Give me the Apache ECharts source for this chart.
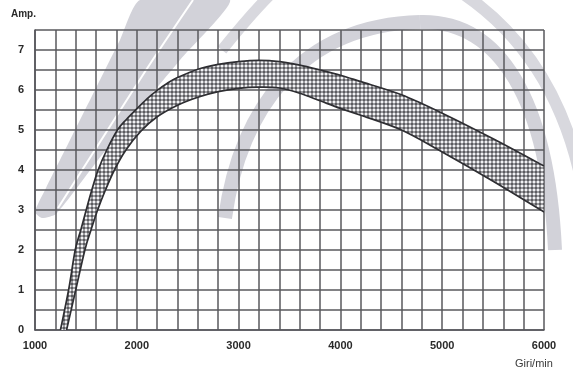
<!DOCTYPE html>
<html>
<head>
<meta charset="utf-8">
<script src="https://cdn.jsdelivr.net/npm/echarts@6/dist/echarts.min.js"></script>
<style>
html,body{margin:0;padding:0;background:#fff;}
#chart{width:573px;height:369px;}
</style>
</head>
<body>
<div id="chart"></div>
<script>
// Upper (left/top) boundary of the band: [rpm, amp]
var upperCurve = [
  [1250,0],[1330,1],[1395,2],[1450,2.5],[1503,3],[1558,3.5],[1620,4],[1705,4.5],
  [1810,5],[1900,5.27],[2000,5.53],[2100,5.78],[2200,5.99],[2300,6.17],[2400,6.31],
  [2600,6.52],[2800,6.64],[3000,6.71],[3200,6.74],[3400,6.71],[3600,6.62],[3800,6.5],
  [4000,6.37],[4200,6.21],[4600,5.88],[5000,5.42],[5500,4.78],[6000,4.1]
];
// Lower (right/bottom) boundary of the band: [rpm, amp]
var lowerCurve = [
  [1310,0],[1400,1],[1490,2],[1550,2.5],[1615,3],[1692,3.5],[1780,4],[1893,4.5],
  [2040,4.97],[2200,5.33],[2400,5.62],[2600,5.82],[2800,5.96],[3000,6.04],[3200,6.07],
  [3400,6.05],[3600,5.92],[3800,5.73],[4000,5.54],[4200,5.37],[4600,5.0],[5000,4.45],
  [5500,3.72],[6000,2.95]
];
var xTickLabels = [1000, 2000, 3000, 4000, 5000, 6000];
var yTickLabels = [0, 1, 2, 3, 4, 5, 6, 7];
var yAxisTitle = 'Amp.';
var xAxisTitle = 'Giri/min';

// cross-hatch pattern
var pc = document.createElement('canvas');
pc.width = 4; pc.height = 4;
var pctx = pc.getContext('2d');
pctx.fillStyle = '#5c5c60';
pctx.fillRect(0,0,4,4);
pctx.fillStyle = '#9a9a9e';
pctx.fillRect(0,1,4,2);
pctx.fillRect(1,0,2,4);
pctx.fillStyle = '#f2f2f4';
pctx.fillRect(1,1,2,2);

// Catmull-Rom -> cubic bezier path segments (drawing only)
function crPath(pts, moveFirst){
  var d = moveFirst ? 'M' + pts[0][0] + ' ' + pts[0][1] : 'L' + pts[0][0] + ' ' + pts[0][1];
  for (var i = 0; i < pts.length - 1; i++){
    var p0 = pts[i-1] || pts[i], p1 = pts[i], p2 = pts[i+1], p3 = pts[i+2] || pts[i+1];
    var c1x = p1[0] + (p2[0]-p0[0])/6, c1y = p1[1] + (p2[1]-p0[1])/6;
    var c2x = p2[0] - (p3[0]-p1[0])/6, c2y = p2[1] - (p3[1]-p1[1])/6;
    d += ' C' + c1x + ' ' + c1y + ' ' + c2x + ' ' + c2y + ' ' + p2[0] + ' ' + p2[1];
  }
  return d;
}

var chart = echarts.init(document.getElementById('chart'), null, {renderer:'canvas'});

var gridCol = '#58585d';
var wm = '#d2d2d9';
var option = {
  animation: false,
  backgroundColor: '#ffffff',
  grid: {left: 35, right: 29, top: 30, bottom: 39, show: false},
  graphic: [
    // faint scan watermark shapes
    {type:'polygon', z:-10, silent:true,
     shape:{points:[[140,0],[120,40],[95,90],[70,140],[46,188],[35,212],[42,218],[56,214],
                    [98,160],[140,108],[180,60],[230,0]], smooth:0.2},
     style:{fill:wm, stroke:null}},
    {type:'polyline', z:-9, silent:true,
     shape:{points:[[58,208],[100,142],[150,64],[193,0]], smooth:0.3},
     style:{stroke:'#ffffff',lineWidth:2,fill:null}},
    {type:'bezierCurve', z:-10, silent:true,
     shape:{x1:222,y1:50,x2:270,y2:-5,cpx1:238,cpy1:30,cpx2:255,cpy2:10},
     style:{stroke:'#d8d8de',lineWidth:11,fill:null}},
    {type:'bezierCurve', z:-10, silent:true,
     shape:{x1:225,y1:218,x2:420,y2:22,cpx1:240,cpy1:110,cpx2:300,cpy2:25},
     style:{stroke:wm,lineWidth:14,fill:null}},
    {type:'bezierCurve', z:-10, silent:true,
     shape:{x1:420,y1:22,x2:555,y2:250,cpx1:500,cpy1:20,cpx2:548,cpy2:100},
     style:{stroke:wm,lineWidth:14,fill:null}},
    {type:'bezierCurve', z:-10, silent:true,
     shape:{x1:465,y1:-5,x2:585,y2:200,cpx1:530,cpy1:40,cpx2:570,cpy2:110},
     style:{stroke:'#d8d8de',lineWidth:12,fill:null}},
    {type:'text', left:11, top:9,
     style:{text: yAxisTitle, fill:'#2a2a2a', font:'bold 10px "Liberation Sans", Arial, sans-serif'}},
    {type:'text', left:515, top:358,
     style:{text: xAxisTitle, fill:'#3a3a3a', font:'11px "Liberation Sans", Arial, sans-serif'}}
  ],
  xAxis: {
    type: 'value', min: 1000, max: 6000, interval: 200,
    axisLine: {show: true, onZero: false, lineStyle: {color: gridCol, width: 1.6}},
    axisTick: {show: false},
    axisLabel: {
      margin: 10, color: '#2a2a2a',
      fontFamily: '"Liberation Sans", Arial, sans-serif', fontSize: 11, fontWeight: 'bold',
      formatter: function(v){ return xTickLabels.indexOf(v) >= 0 ? String(v) : ''; }
    },
    splitLine: {show: true, lineStyle: {color: gridCol, width: 1.5}}
  },
  yAxis: {
    type: 'value', min: 0, max: 7.5, interval: 0.5,
    axisLine: {show: true, onZero: false, lineStyle: {color: gridCol, width: 1.6}},
    axisTick: {show: false},
    axisLabel: {
      margin: 11, color: '#2a2a2a', padding: [0,0,4,0],
      fontFamily: '"Liberation Sans", Arial, sans-serif', fontSize: 11, fontWeight: 'bold',
      formatter: function(v){ return yTickLabels.indexOf(v) >= 0 ? String(v) : ''; }
    },
    splitLine: {show: true, lineStyle: {color: gridCol, width: 1.5}}
  },
  series: [{
    type: 'custom',
    coordinateSystem: 'cartesian2d',
    data: [[0, 0]],
    clip: true,
    renderItem: function(params, api){
      var up = upperCurve.map(function(p){ return api.coord(p); });
      var lo = lowerCurve.map(function(p){ return api.coord(p); });
      var loRev = lo.slice().reverse();
      var fillPath = crPath(up, true) + ' ' + crPath(loRev, false) + ' Z';
      return {
        type: 'group',
        children: [
          {type:'path', shape:{pathData: fillPath},
           style:{fill:{image: pc, repeat:'repeat'}, stroke:null}},
          {type:'path', shape:{pathData: crPath(up, true)},
           style:{stroke:'#2e2e32', lineWidth:1.7, fill:null}},
          {type:'path', shape:{pathData: crPath(lo, true)},
           style:{stroke:'#2e2e32', lineWidth:1.7, fill:null}}
        ]
      };
    }
  }]
};
chart.setOption(option);
</script>
</body>
</html>
